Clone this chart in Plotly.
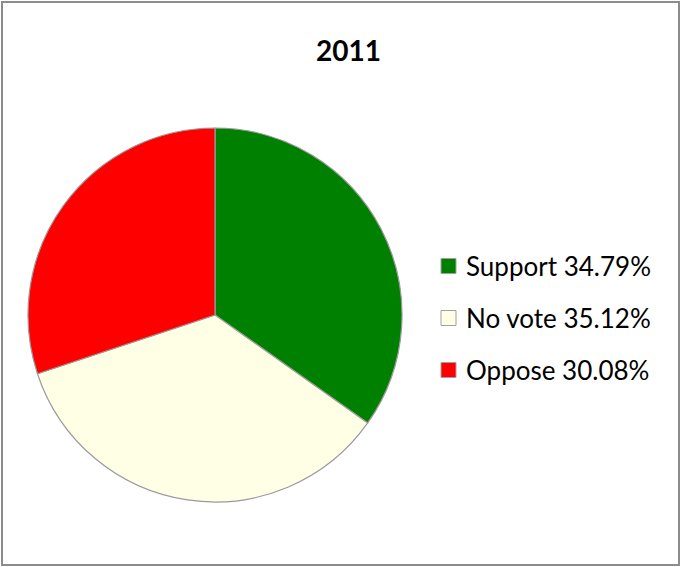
import plotly.graph_objects as go

title = "2011"
labels = ["Support", "No vote", "Oppose"]
values = [34.79, 35.12, 30.08]
colors = ["#008000", "#FFFFE6", "#FF0000"]

W, H = 681, 567

fig = go.Figure()
fig.add_trace(go.Pie(
    labels=labels, values=values, sort=False, direction="clockwise", rotation=0,
    marker=dict(colors=colors, line=dict(color="#9a9a9a", width=1.2)),
    textinfo="none", hoverinfo="label+percent", showlegend=False,
    domain=dict(x=[28 / W, 402 / W], y=[1 - 502 / H, 1 - 128 / H]),
))

shapes = []
annotations = []
# frame
shapes.append(dict(type="rect", xref="paper", yref="paper", x0=2 / W, x1=679 / W, y0=2 / H, y1=565 / H,
                   line=dict(color="#8c8c8c", width=2), fillcolor="rgba(0,0,0,0)"))
# legend
for i, (lab, val, col) in enumerate(zip(labels, values, colors)):
    cy = 266 + i * 52
    shapes.append(dict(type="rect", xref="paper", yref="paper",
                       x0=441 / W, x1=456 / W, y0=1 - (cy + 7.5) / H, y1=1 - (cy - 7.5) / H,
                       fillcolor=col, line=dict(color="#a0a0a0", width=1)))
    annotations.append(dict(xref="paper", yref="paper", x=464 / W, y=1 - cy / H, xanchor="left", yanchor="middle",
                            text=f"{lab} {val:.2f}%", showarrow=False,
                            font=dict(family="Lato", size=26, color="#000000")))
annotations.append(dict(xref="paper", yref="paper", x=348 / W, y=1 - 50 / H, xanchor="center", yanchor="middle",
                        text=f"<b>{title}</b>", showarrow=False,
                        font=dict(family="Lato", size=28, color="#000000")))

fig.update_layout(width=W, height=H, margin=dict(l=0, r=0, t=0, b=0),
                  paper_bgcolor="white", plot_bgcolor="white",
                  shapes=shapes, annotations=annotations)
fig.write_html("out.html", config={"displayModeBar": False},
               post_script="document.body.style.margin='0';document.body.style.overflow='hidden';")
